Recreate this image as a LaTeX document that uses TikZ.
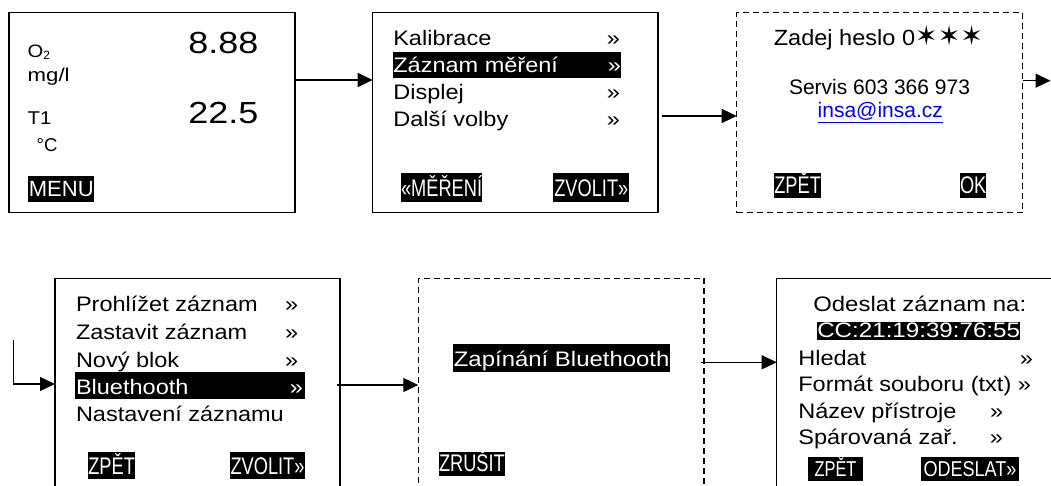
\documentclass[tikz,border=0pt]{standalone}
\usepackage{fontspec}
\usepackage{graphicx}
\setmainfont{Liberation Sans}
\newfontfamily\symfont{DejaVu Sans}
\usetikzlibrary{arrows.meta,calc}
\newcommand{\sx}[2]{\scalebox{#1}[1]{#2}}
\newcommand{\fs}[1]{\fontsize{#1}{#1}\selectfont}
\newcommand{\M}[1]{\sx{1.12}{#1}}
\newcommand{\B}[1]{\sx{0.76}{#1}}
\begin{document}
\begin{tikzpicture}[x=1pt,y=-1pt,
  every node/.style={inner sep=0pt, outer sep=0pt},
  scr/.style={draw, line width=1.3pt, inner sep=0pt, fill=none},
  dscr/.style={scr, dash pattern=on 6pt off 4pt},
  conn/.style={line width=1.2pt, -{Triangle[length=15pt,width=14pt]}},
  menu/.style={anchor=base west, font=\fs{21}},
  chev/.style={anchor=base east, font=\fs{21}},
  btn/.style={fill=black, text=white, font=\fs{24}, text height=21pt, text depth=5pt, anchor=base west, align=center},
  hl/.style={fill=black, text=white, font=\fs{21}, anchor=base west, text height=21pt, text depth=5.5pt},
]
\useasboundingbox (0,0) rectangle (1051,486);
\clip (0,0) rectangle (1051,486);

% ---------- screens ----------
\node[scr, minimum width=286pt, minimum height=200pt] (b1) at (152,112.7) {};
\node[scr, minimum width=285.3pt, minimum height=200pt] (b2) at (515.35,112.7) {};
\node[dscr, minimum width=286pt, minimum height=200pt] (b3) at (879.7,112.7) {};
\node[scr, minimum width=285pt, minimum height=230pt] (b4) at (197.5,393.3) {};
\node[dscr, minimum width=285.7pt, minimum height=230pt] (b5) at (561.15,393.3) {};
\node[scr, minimum width=290pt, minimum height=230pt] (b6) at (921.7,393.3) {};

% ---------- screen 1 ----------
\node[anchor=base west, font=\fs{18}] (o2) at (27.7,58) {\sx{1.12}{O}{\fs{12}\raisebox{-1.5pt}{2}}};
\node[anchor=base west, font=\fs{18.5}] (mgl) at (27.7,81.7) {\sx{1.2}{mg/l}};
\node[anchor=base west, font=\fs{18.5}] (t1) at (27.7,125) {\sx{1.1}{T1}};
\node[anchor=base west, font=\fs{18.5}] (degc) at (36.7,151.7) {°C};
\node[anchor=base west, font=\fs{30.5}] (v1) at (188.3,53.3) {\sx{1.18}{8.88}};
\node[anchor=base west, font=\fs{30.5}] (v2) at (188.3,123.3) {\sx{1.18}{22.5}};
\node[btn, font=\fs{22}, minimum width=66pt, text height=21pt, text depth=5.6pt] (menu) at (28.3,196.7) {MENU};

% ---------- screen 2 ----------
\node[menu] (k1) at (393.3,46) {\M{Kalibrace}};
\node[chev] (k1c) at (620,46) {\M{»}};
\node[hl] (k2) at (393.3,73) {\hbox to 227.7pt{\M{Záznam měření}\hfil\M{»}}};
\node[menu] (k3) at (393.3,100) {\M{Displej}};
\node[chev] (k3c) at (620,100) {\M{»}};
\node[menu] (k4) at (393.3,127) {\M{Další volby}};
\node[chev] (k4c) at (620,127) {\M{»}};
\node[btn, minimum width=80pt, text height=24pt, text depth=5.3pt] (mer) at (401,197) {\B{«MĚŘENÍ}};
\node[btn, minimum width=76pt, text height=24pt, text depth=5.3pt] (zv1) at (553.3,197) {\B{ZVOLIT»}};

% ---------- screen 3 ----------
\node[anchor=base, font=\fs{22}] (pw) at (878.4,45.7) {\sx{1.07}{Zadej heslo 0}{\symfont\fs{27}\hspace{0pt}✶\hspace{0pt}✶\hspace{0pt}✶}};
\node[anchor=base, font=\fs{21}] (srv) at (879.5,95) {Servis 603 366 973};
\node[anchor=base, font=\fs{21}, text=blue] (mail) at (880.3,118) {\underline{insa@insa.cz}};
\node[btn, minimum width=44.7pt, text height=20.5pt, text depth=4.2pt] (zp1) at (774.3,193.5) {\B{ZPĚT}};
\node[btn, minimum width=25.7pt, text height=20.5pt, text depth=4.2pt] (ok) at (960,193.5) {\B{OK}};

% ---------- screen 4 ----------
\node[menu] (p1) at (76,311.7) {\M{Prohlížet záznam}};
\node[chev] (p1c) at (298.3,311.7) {\M{»}};
\node[menu] (p2) at (76,339) {\M{Zastavit záznam}};
\node[chev] (p2c) at (298.3,339) {\M{»}};
\node[menu] (p3) at (76,367.3) {\M{Nový blok}};
\node[chev] (p3c) at (298.3,367.3) {\M{»}};
\node[hl, text height=21.7pt, text depth=5.3pt] (p4) at (75,394) {\hbox to 230pt{\hspace{1pt}\M{Bluethooth}\hfil\M{»}\hspace{2pt}}};
\node[menu] (p5) at (76,421.7) {\M{Nastavení záznamu}};
\node[btn, minimum width=45pt, text height=21.7pt, text depth=5.3pt] (zp2) at (88.3,474) {\B{ZPĚT}};
\node[btn, minimum width=75pt, text height=21.7pt, text depth=5.3pt] (zv2) at (230,474) {\B{ZVOLIT»}};

% ---------- screen 5 ----------
\node[hl, minimum width=216.7pt, text height=21.7pt, text depth=5.7pt] (bt) at (453.3,366) {\sx{1.14}{Zapínání Bluethooth}};
\node[btn, minimum width=63.7pt, text height=19.5pt, text depth=5pt] (zr) at (439,471) {\B{ZRUŠIT}};

% ---------- screen 6 ----------
\node[menu] (s1) at (813.3,311.7) {\sx{1.14}{Odeslat záznam na:}};
\node[hl, minimum width=202.7pt, text height=15.5pt, text depth=3pt] (mac) at (817.3,337) {\sx{1.15}{CC:21:19:39:76:55}};
\node[menu] (s2) at (798.3,365) {\M{Hledat}};
\node[chev] (s2c) at (1033,365) {\M{»}};
\node[menu] (s3) at (798.3,391.7) {\M{Formát souboru (txt) »}};
\node[menu] (s4) at (798.3,418.3) {\M{Název přístroje}};
\node[chev] (s4c) at (1003.3,418.3) {\M{»}};
\node[menu] (s5) at (798.3,444) {\M{Spárovaná zař.}};
\node[chev] (s5c) at (1003,444) {\M{»}};
\node[btn, font=\fs{21.5}, minimum width=54.4pt, text height=19.5pt, text depth=4.7pt] (zp3) at (808.3,476) {\B{ZPĚT}};
\node[btn, font=\fs{21.5}, minimum width=98pt, text height=19.5pt, text depth=4.7pt] (ods) at (921,476) {\sx{0.84}{ODESLAT»}};

% ---------- connectors ----------
\coordinate (y1) at (0,80);
\coordinate (y2) at (0,116);
\coordinate (y3) at (0,80.7);
\coordinate (out3) at (1050.5,80.7);
\coordinate (in4) at (13.3,340);
\coordinate (y4) at (0,384);
\coordinate (y5) at (0,385);
\coordinate (y6) at (0,362.3);
\draw[conn] (b1.east |- y1) -- (b2.west |- y1);
\draw[conn] ($(b2.east |- y2)+(3.7,0)$) -- (b3.west |- y2);
\draw[conn] (b3.east |- y3) -- (out3);
\draw[conn] (in4) |- (b4.west |- y4);
\draw[conn] ($(b4.east |- y5)+(-3,0)$) -- (b5.west |- y5);
\draw[conn] ($(b5.east |- y6)+(-3.3,0)$) -- (b6.west |- y6);
\end{tikzpicture}
\end{document}
